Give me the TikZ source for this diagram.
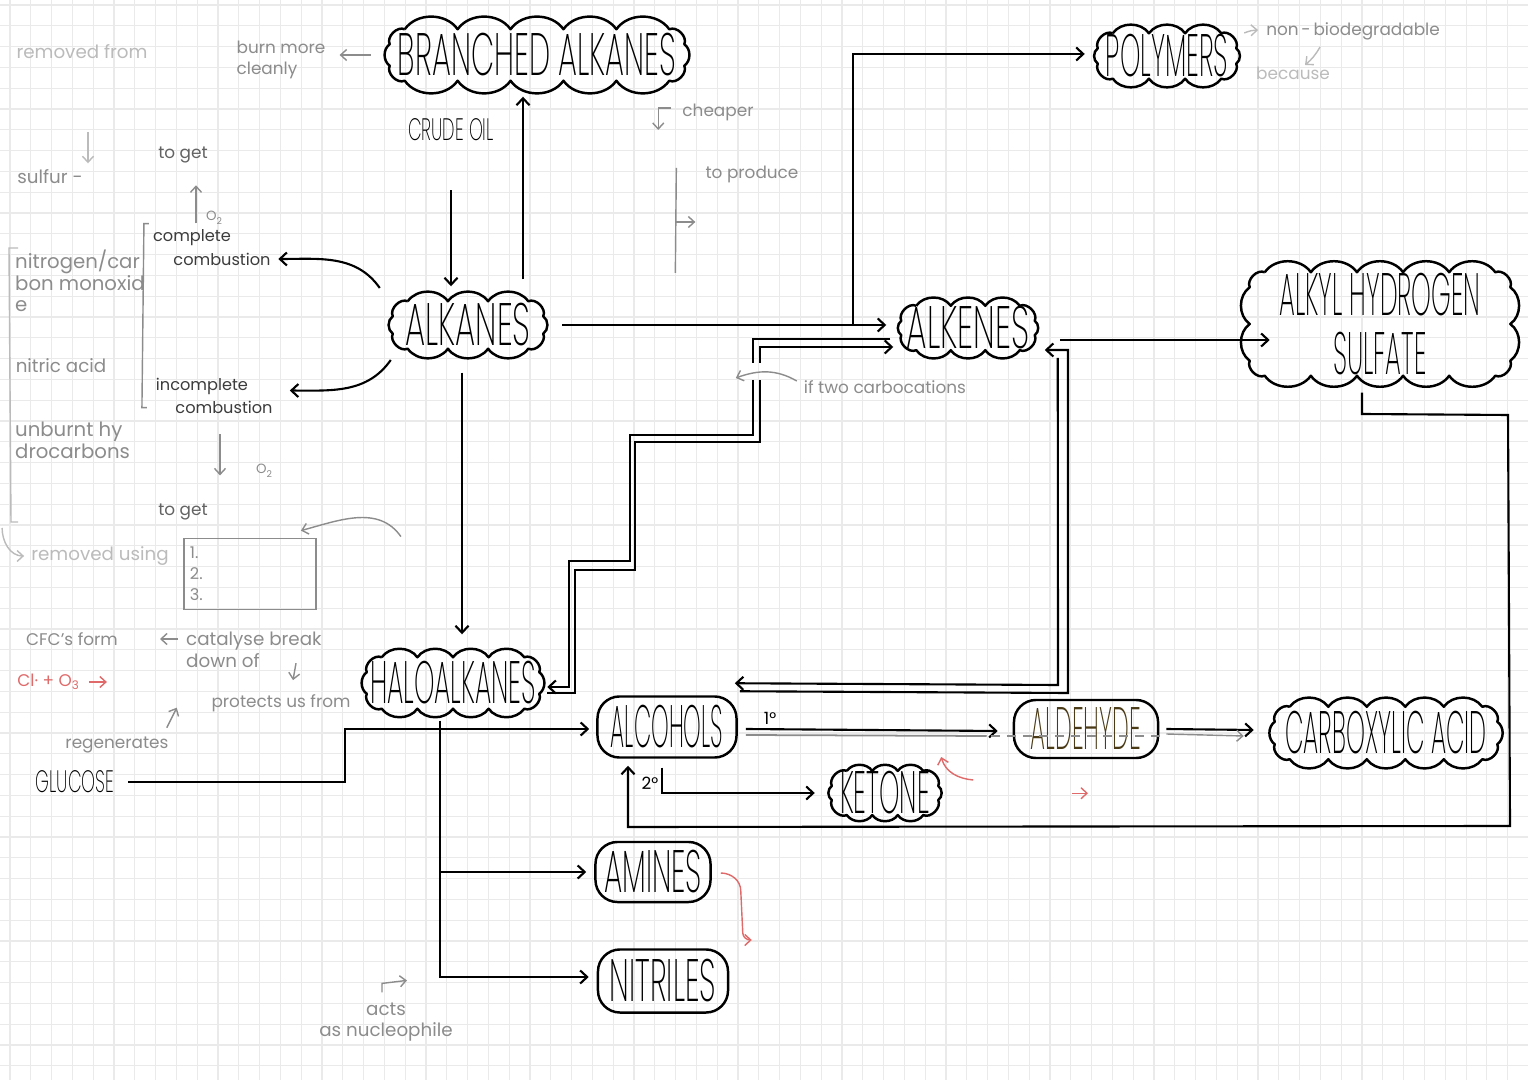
\documentclass[tikz,border=0pt]{standalone}
\usepackage{fontspec}
\usepackage{graphicx}
\setmainfont{Poppins}
\IfFontExistsTF{Poppins ExtraLight}
  {\newfontfamily\capsfont[FakeStretch=0.457]{Poppins ExtraLight}\newfontfamily\wordfont[FakeStretch=0.57]{Poppins ExtraLight}}
  {\newfontfamily\capsfont[FakeStretch=0.39]{Liberation Sans}\newfontfamily\wordfont[FakeStretch=0.5]{Liberation Sans}}
\usetikzlibrary{arrows.meta, positioning, shapes.misc, calc}
\definecolor{gridline}{HTML}{EAEAEA}
\definecolor{notegray}{HTML}{8C8C8C}
\definecolor{palegray}{HTML}{BBBBBB}
\definecolor{inkgray}{HTML}{3C3C3C}
\definecolor{penred}{HTML}{E06A6A}
\definecolor{aldink}{HTML}{4A3A16}
\newcommand{\nodetext}[2][1]{\makebox[0pt]{\scalebox{#1}[1]{#2}}}
\newcommand{\puffs}[3]{%
  \draw[puffline] ([xshift=1.5mm]#1.north west)
    \foreach \k in {1,...,#2}{ to[bend left=55] ($([xshift=1.5mm]#1.north west)!\k/#2!([xshift=-1.5mm]#1.north east)$) }
    to[bend left=70] ([yshift=-1.5mm]#1.north east)
    \foreach \k in {1,...,#3}{ to[bend left=55] ($([yshift=-1.5mm]#1.north east)!\k/#3!([yshift=1.5mm]#1.south east)$) }
    to[bend left=70] ([xshift=-1.5mm]#1.south east)
    \foreach \k in {1,...,#2}{ to[bend left=55] ($([xshift=-1.5mm]#1.south east)!\k/#2!([xshift=1.5mm]#1.south west)$) }
    to[bend left=70] ([yshift=1.5mm]#1.south west)
    \foreach \k in {1,...,#3}{ to[bend left=55] ($([yshift=1.5mm]#1.south west)!\k/#3!([yshift=-1.5mm]#1.north west)$) }
    to[bend left=70] ([xshift=1.5mm]#1.north west);
}
\tikzset{
  bubble/.style={
    rectangle,
    inner sep=0pt,
    font=\capsfont\fontsize{17}{17}\selectfont
  },
  puffline/.style={line width=0.7pt, line join=round},
  pill/.style={
    rectangle,
    rounded corners=0.22cm,
    draw,
    line width=0.7pt,
    inner sep=0pt,
    font=\capsfont\fontsize{17}{17}\selectfont
  },
  word/.style={inner sep=1pt, font=\wordfont\fontsize{8.8}{9}\selectfont},
  note/.style={text=notegray, inner sep=1pt, align=left, font=\fontsize{4.8}{6.1}\selectfont},
  faint/.style={note, text=palegray},
  dim/.style={note, text=inkgray!80},
  tag/.style={note, text=inkgray, font=\fontsize{4.6}{5.5}\selectfont},
  rednote/.style={note, text=penred},
  arrow/.style={-{Straight Barb[length=0.7mm, width=1.3mm]}, line width=0.6pt},
  notearrow/.style={-{Straight Barb[length=0.6mm, width=1.1mm]}, line width=0.4pt, draw=notegray},
  faintarrow/.style={notearrow, draw=palegray},
  redarrow/.style={notearrow, draw=penred},
  bracket/.style={line width=0.4pt, draw=notegray}
}
\begin{document}
\begin{tikzpicture}[x=0.01cm, y=-0.01cm]
  \useasboundingbox (0,0) rectangle (1528,1080);
  \fill[white] (0,0) rectangle (1528,1080);
  \foreach \gx in {10,30.8,...,1528} \draw[gridline, line width=0.3pt] (\gx,0) -- (\gx,1080);
  \foreach \gy in {5,25.8,...,1080} \draw[gridline, line width=0.3pt] (0,\gy) -- (1528,\gy);

  \node[bubble, minimum width=2.93cm, minimum height=0.50cm] (branched) at (537,55) {\nodetext[1.10]{BRANCHED ALKANES}};
  \node[word] (crude) at (451,130) {CRUDE OIL};
  \node[bubble, minimum width=1.49cm, minimum height=0.46cm] (alkanes) at (468,325) {\nodetext[1.17]{ALKANES}};
  \node[bubble, minimum width=1.32cm, minimum height=0.43cm] (alkenes) at (968,328) {\nodetext[1.19]{ALKENES}};
  \node[bubble, minimum width=1.37cm, minimum height=0.44cm] (polymers) at (1167,56) {\nodetext[0.95]{POLYMERS}};
  \node[bubble, minimum width=2.59cm, minimum height=1.02cm] (sulfate) at (1380,324)
    {\nodetext[0.92]{\shortstack{ALKYL HYDROGEN\\[1.5pt]SULFATE}}};
  \node[bubble, minimum width=1.71cm, minimum height=0.50cm] (halo) at (453,683) {\nodetext[0.95]{HALOALKANES}};
  \node[bubble, minimum width=1.05cm, minimum height=0.40cm] (ketone) at (885,793) {\nodetext[0.95]{KETONE}};
  \node[bubble, minimum width=2.21cm, minimum height=0.51cm] (carboxylic) at (1386,733) {\nodetext[0.88]{CARBOXYLIC ACID}};
  \puffs{branched}{5}{1}
  \puffs{alkanes}{3}{1}
  \puffs{alkenes}{3}{1}
  \puffs{polymers}{3}{1}
  \puffs{sulfate}{5}{2}
  \puffs{halo}{4}{1}
  \puffs{ketone}{3}{1}
  \puffs{carboxylic}{5}{1}
  \node[pill, minimum width=1.39cm, minimum height=0.61cm] (alcohols) at (667,727) {\nodetext[0.82]{ALCOHOLS}};
  \node[pill, minimum width=1.44cm, minimum height=0.58cm, text=aldink] (aldehyde) at (1086,729) {\nodetext[0.87]{ALDEHYDE}};
  \node[pill, minimum width=1.15cm, minimum height=0.60cm] (amines) at (653,872) {\nodetext[1.06]{AMINES}};
  \node[pill, minimum width=1.30cm, minimum height=0.63cm] (nitriles) at (663,981) {\nodetext[1.08]{NITRILES}};
  \node[word] (glucose) at (75,782) {GLUCOSE};

  \node[faint, font=\fontsize{5.2}{6.1}\selectfont] (removedfrom) at (82,52) {removed from};
  \node[note] (burn) at (281,60) {burn more\\cleanly};
  \node[note, font=\fontsize{5.2}{6.1}\selectfont] (sulfur) at (50,177) {sulfur -};
  \node[dim] (toget1) at (183,155) {to get};
  \node[note, font=\fontsize{3.8}{4}\selectfont] (oxyA) at (215,218) {O\textsubscript{2}};
  \node[tag] (complete) at (192,238) {complete};
  \node[tag] (combustA) at (222,259) {combustion};
  \node[note, font=\fontsize{5.6}{6.1}\selectfont, anchor=north west] (nitrogen) at (11,246) {nitrogen/car\\bon monoxid\\e};
  \node[note, font=\fontsize{5.2}{6.1}\selectfont] (nitric) at (61,366) {nitric acid};
  \node[note, font=\fontsize{5.6}{6.1}\selectfont, anchor=north west] (unburnt) at (11,418) {unburnt hy\\drocarbons};
  \node[tag] (incomplete) at (202,386) {incomplete};
  \node[tag] (combustB) at (224,407) {combustion};
  \node[note, font=\fontsize{3.8}{4}\selectfont] (oxyB) at (265,471) {O\textsubscript{2}};
  \node[dim] (toget2) at (183,512) {to get};
  \node[faint, font=\fontsize{5.2}{6.1}\selectfont] (removedusing) at (100,556) {removed using};
  \node[note, draw=notegray, line width=0.5pt, minimum width=1.32cm, minimum height=0.71cm, text width=1.2cm,
    font=\fontsize{4.6}{6}\selectfont] (listbox) at (250,574) {1.\\2.\\3.};
  \node[note] (cfc) at (72,639) {CFC's form};
  \node[note, anchor=north west, font=\fontsize{5.2}{6.3}\selectfont] (catalyse) at (182,628) {catalyse break\\down of};
  \node[rednote] (ozone) at (49,682) {Cl· + O\textsubscript{3}};
  \node[note] (protects) at (281,703) {protects us from};
  \node[note] (regen) at (117,745) {regenerates};
  \node[note, align=center, font=\fontsize{5.2}{6.1}\selectfont] (acts) at (386,1022) {acts\\as nucleophile};
  \node[note] (cheaper) at (718,112) {cheaper};
  \node[note] (produce) at (752,174) {to produce};
  \node[note] (nonbio) at (1353,31) {non\,-\,biodegradable};
  \node[faint] (because) at (1293,73) {because};
  \node[note] (carbo) at (885,387) {if two carbocations};
  \node[note, text=black] (one) at (770,718) {1°};
  \node[note, text=black] (two) at (650,783) {2°};

  \draw[arrow, shorten <=4.5mm, shorten >=1.5mm] (crude.south) -- (crude.south |- alkanes.north);
  \draw[arrow] ([shift={(55,-22)}]alkanes.north) -- ([shift={(55,16)}]alkanes.north |- branched.south);
  \draw[notearrow, shorten <=1.9mm, shorten >=1mm] (branched.west) -- (branched.west -| burn.east);
  \draw[arrow] ([shift={(-13,-37)}]alkanes.west) to[out=125, in=0] ([xshift=1pt]combustA.east);
  \draw[arrow] ([shift={(-2,35)}]alkanes.west) to[out=235, in=0] ([shift={(13,-6)}]combustB.north east);
  \draw[arrow, shorten <=1.9mm, shorten >=1.5mm] (alkanes.east) -- (alkanes.east -| alkenes.west);
  \coordinate (polyfork) at (853,325);
  \draw[arrow] (polyfork) |- ([shift={(-13,-2)}]polymers.west);
  \draw[arrow, shorten >=0.5mm] ([shift={(25,12)}]alkenes.east) -- ([shift={(25,12)}]alkenes.east -| sulfate.west);
  \draw[arrow] ([shift={(-6,24)}]alkanes.south) -- ([shift={(-6,-23)}]alkanes.south |- halo.north);
  \draw[arrow] ([shift={(-11,11)}]alkenes.west) -- (753,339) -- (753,363) (753,380) -- (753,435) -- (630,435)
    -- (630,561) -- (569,561) -- (569,687) -- ([shift={(8,4)}]halo.east);
  \draw[arrow] ([shift={(8,10)}]halo.east) -- (575,693) -- (575,570) -- (635,570) -- (635,442) -- (760,442)
    -- (760,380) (760,363) -- (760,347) -- ([shift={(-8,19)}]alkenes.west);
  \draw[arrow] ([shift={(23,30)}]alkenes.east) -- (1058,685) -- ([shift={(-3,-12)}]alcohols.north east);
  \draw[arrow] ([shift={(2,-4)}]alcohols.north east) -- (1068,693) -- (1068,350) -- ([shift={(10,22)}]alkenes.east);
  \draw[arrow, shorten <=1mm] (glucose.east) -| (345,729) -- ([shift={(-7,2)}]alcohols.west);
  \coordinate (halostem) at ([shift={(-13,12)}]halo.south);
  \draw[arrow] (halostem) |- ([shift={(-8,-4)}]nitriles.west);
  \draw[arrow] (halostem |- amines.west) -- ([shift={(-8,0)}]amines.west);
  \draw[arrow] ([shift={(8,2)}]alcohols.east) -- ([shift={(-15,2)}]aldehyde.west);
  \draw[notegray, line width=0.5pt] ([shift={(8,8)}]alcohols.east) -- ([shift={(-26,7)}]aldehyde.west);
  \draw[notegray, line width=0.5pt, dash pattern=on 0.9mm off 0.7mm] ([shift={(-22,7)}]aldehyde.west) -- ([shift={(4,7)}]aldehyde.east);
  \draw[arrow] ([shift={(7,0)}]aldehyde.east) -- ([shift={(-21,-3)}]carboxylic.west);
  \draw[notearrow] ([shift={(7,5)}]aldehyde.east) -- ([shift={(-31,3)}]carboxylic.west);
  \draw[arrow] ([shift={(-5,9)}]alcohols.south) |- ([shift={(-17,0)}]ketone.west);
  \draw[arrow] ([shift={(-18,17)}]sulfate.south) -- (1362,414) -- (1508,415) -- (1510,826) -- (628,827)
    -- ([shift={(-39,7)}]alcohols.south);

  \draw[faintarrow] (removedfrom.south) ++(6,69) -- ++(0,31);
  \draw[notearrow] (toget1.south) ++(13,56) -- ++(0,-38);
  \draw[bracket] (complete.north west) ++(0,-2) -- ++(-5,0) -- ++(-2,184) -- ++(5,0);
  \draw[notearrow] (combustB.south) ++(-4,17) -- ++(0,41);
  \draw[bracket, palegray] (nitrogen.north west) ++(7,2) -- ++(-9,0) -- ++(2,274) -- ++(7,0);
  \draw[faintarrow] ([shift={(-25,-28)}]removedusing.west) to[out=-90, in=180] ([shift={(-3,0)}]removedusing.west);
  \draw[notearrow] ([shift={(84,-1)}]listbox.north east) to[out=125, in=15] ([shift={(-16,-7)}]listbox.north east);
  \draw[notearrow] ([shift={(-4,11)}]catalyse.north west) -- ++(-18,0);
  \draw[notearrow] (protects.north) ++(15,-27) -- ++(-3,17);
  \draw[notearrow] ([shift={(-6,-5)}]regen.north east) -- ++(10,-20);
  \draw[notearrow] (acts.north) ++(-4,-6) -- ++(0,-9) -- ++(25,-3);
  \draw[redarrow] ([shift={(4,0)}]ozone.east) -- ++(18,0);
  \draw[notearrow] (cheaper.west) ++(-7,-4) -- ++(-13,0) -- ++(0,22);
  \draw[bracket] (produce.west) ++(-25,-6) -- ++(-1,105);
  \draw[notearrow] (produce.west) ++(-25,48) -- ++(19,0);
  \draw[faintarrow] ([shift={(8,-23)}]polymers.east) to[bend left=10] ([shift={(-4,-1)}]nonbio.west);
  \draw[faintarrow] ([shift={(-33,16)}]nonbio.center) to[bend left=10] ++(-15,18);
  \draw[notearrow] ([shift={(-3,-6)}]carbo.west) to[out=150, in=20] ([shift={(-64,-9)}]carbo.west);
  \draw[redarrow] ([shift={(35,-13)}]ketone.east) to[out=175, in=-75] ([shift={(3,-36)}]ketone.east);
  \draw[redarrow] ([shift={(-14,34)}]aldehyde.south) -- ++(16,0);
  \draw[redarrow] ([shift={(9,1)}]amines.east) to[out=0, in=90] ++(20,18) -- ++(2,42) to[out=-90, in=180] ++(9,7);
\end{tikzpicture}
\end{document}
